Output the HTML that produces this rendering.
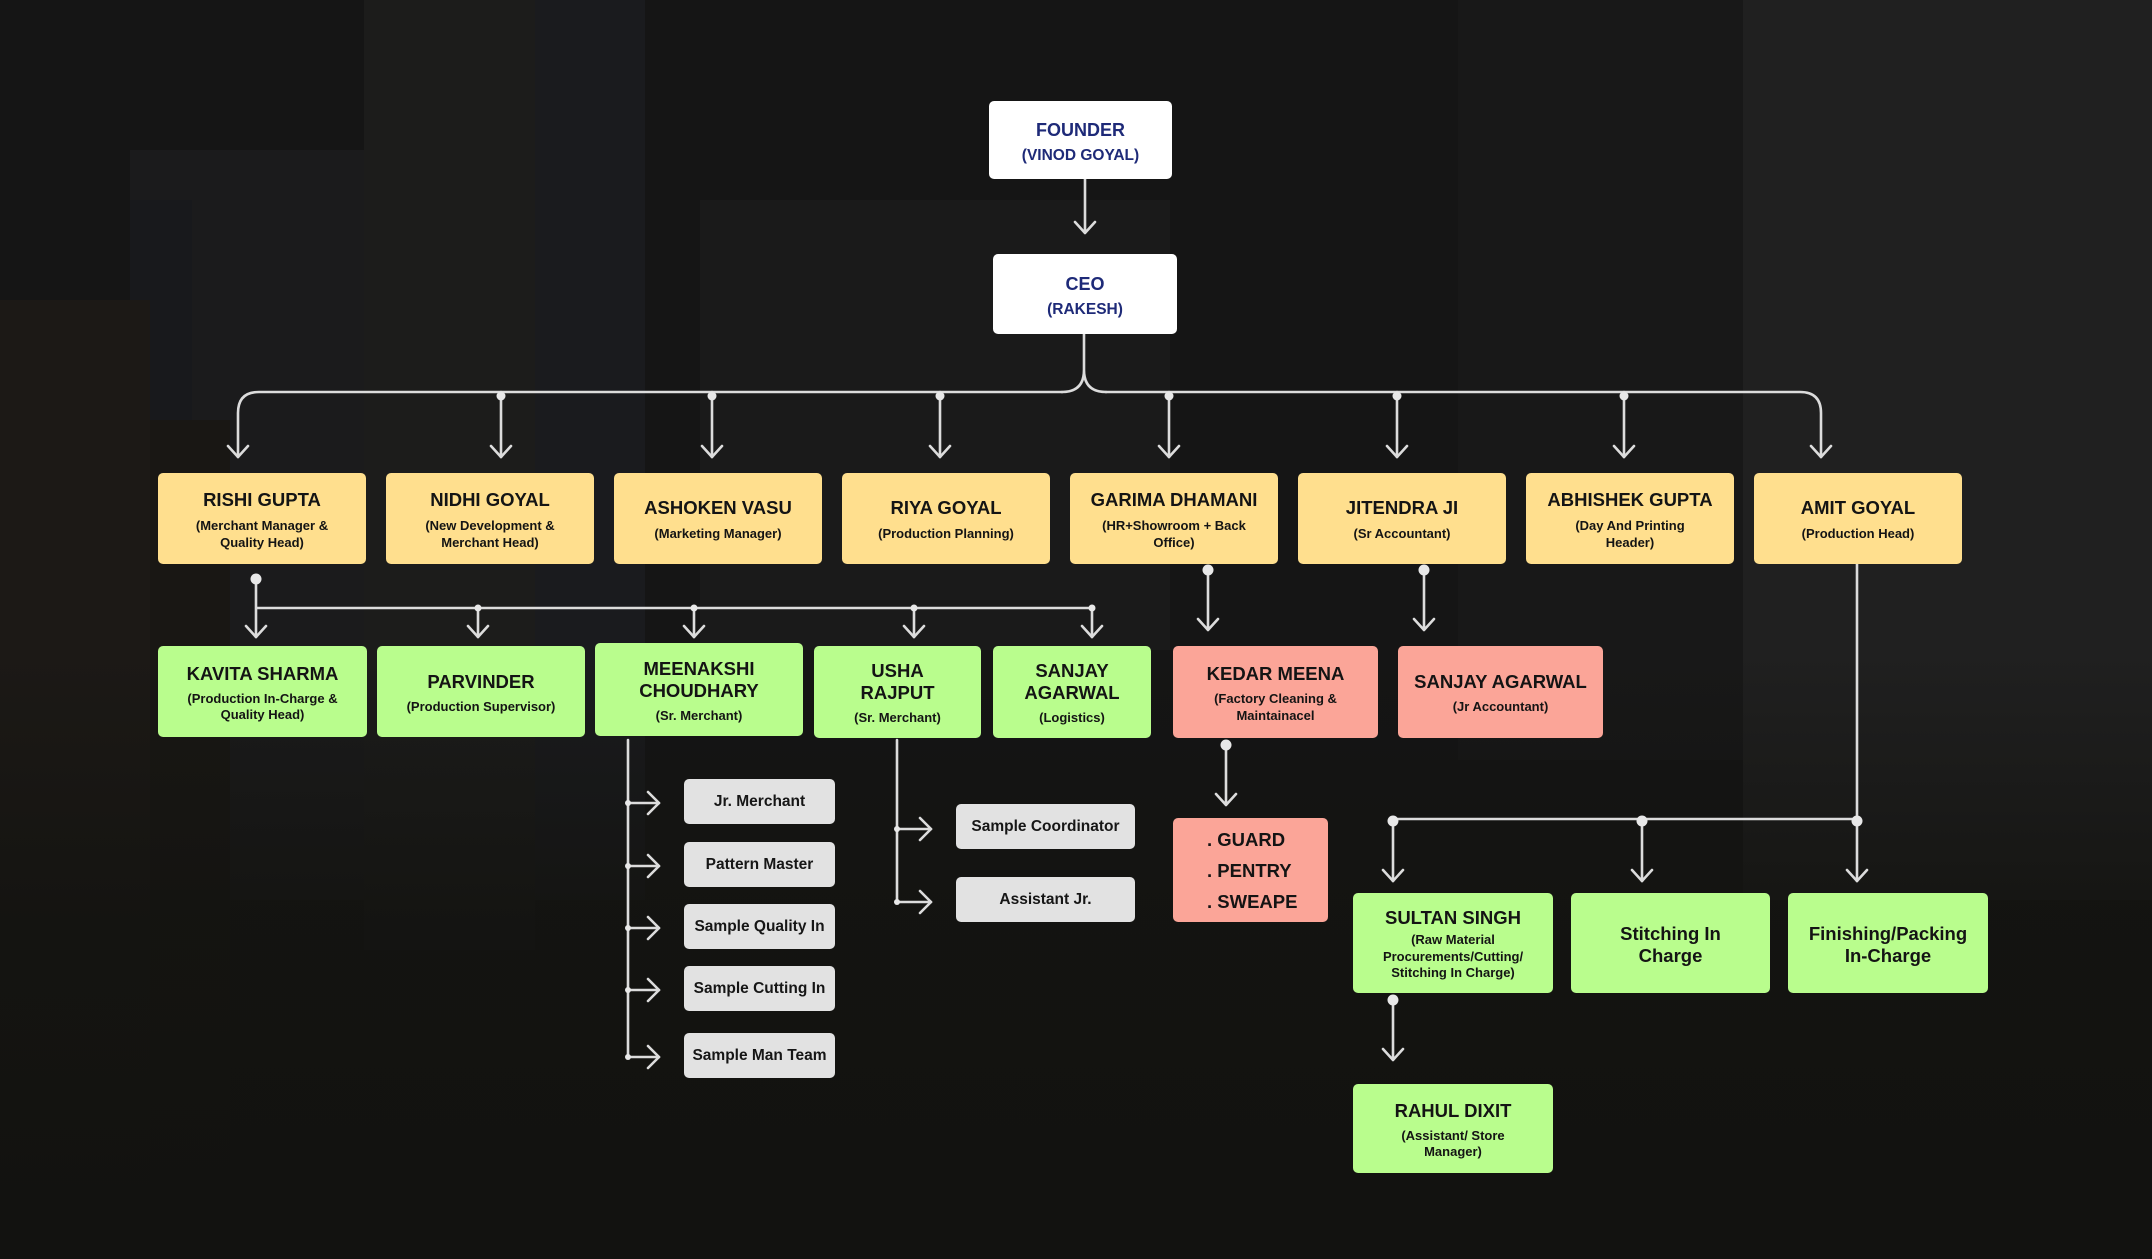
<!DOCTYPE html>
<html>
<head>
<meta charset="utf-8">
<style>
html,body{margin:0;padding:0;background:#141414;}
#c{position:relative;width:2152px;height:1259px;overflow:hidden;background:#141414;font-family:"Liberation Sans",Arial,sans-serif;}
.bg{position:absolute;}
.b{position:absolute;box-sizing:border-box;display:flex;flex-direction:column;align-items:center;justify-content:center;text-align:center;border-radius:5px;color:#141414;padding-top:3px;}
.t{font-weight:bold;font-size:18.5px;line-height:22px;}
.s{font-weight:bold;font-size:13px;line-height:16.5px;margin-top:6px;}
.y{background:#FFDF8E;}
.g{background:#B9FD8D;}
.r{background:#FBA598;}
.w{background:#FFFFFF;}
.w .t{color:#1E2A78;font-size:18px;}
.w .s{color:#1E2A78;font-size:15.5px;line-height:18px;margin-top:6px;}
.gr{background:#E2E2E2;font-weight:bold;font-size:15.5px;color:#161616;padding-top:0;}
.y .s{margin-top:7px;}
</style>
</head>
<body>
<div id="c">
  <!-- background city -->
  <div class="bg" style="left:0;top:0;width:2152px;height:1259px;background:#151515;"></div>
  <div class="bg" style="left:130px;top:150px;width:234px;height:750px;background:#1b1b1c;"></div>
  <div class="bg" style="left:130px;top:200px;width:62px;height:560px;background:#18191c;"></div>
  <div class="bg" style="left:364px;top:0;width:171px;height:950px;background:#1c1c1b;"></div>
  <div class="bg" style="left:535px;top:0;width:110px;height:900px;background:#1a1b1e;"></div>
  <div class="bg" style="left:0;top:300px;width:150px;height:959px;background:#1c1916;"></div>
  <div class="bg" style="left:150px;top:420px;width:80px;height:839px;background:#191714;"></div>
  <div class="bg" style="left:700px;top:200px;width:470px;height:450px;background:#1a1a1a;"></div>
  <div class="bg" style="left:1458px;top:0;width:285px;height:760px;background:#181818;"></div>
  <div class="bg" style="left:1743px;top:0;width:409px;height:900px;background:#202020;"></div>
  <div class="bg" style="left:0;top:650px;width:2152px;height:609px;background:linear-gradient(rgba(19,19,16,0),rgba(19,19,16,0.85) 45%,#121210);"></div>

  <svg class="bg" style="left:0;top:0" width="2152" height="1259" viewBox="0 0 2152 1259">
    <g fill="none" stroke="#DCDCDC" stroke-width="2.6" stroke-linecap="round" stroke-linejoin="round">
      <!-- founder -> ceo -->
      <path d="M1085 179 V233 M1075 222 L1085 233 L1095 222"/>
      <!-- ceo brace -->
      <path d="M1084 334 V370 Q1084 392 1062 392 M1084 370 Q1084 392 1106 392"/>
      <path d="M1062 392 H259 Q238 392 238 413 V457"/>
      <path d="M1106 392 H1800 Q1821 392 1821 413 V457"/>
      <!-- row1 verticals -->
      <path d="M501 392 V457 M712 392 V457 M940 392 V457 M1169 392 V457 M1397 392 V457 M1624 392 V457"/>
      <!-- row1 chevrons -->
      <path d="M228 446 L238 457 L248 446 M491 446 L501 457 L511 446 M702 446 L712 457 L722 446 M930 446 L940 457 L950 446 M1159 446 L1169 457 L1179 446 M1387 446 L1397 457 L1407 446 M1614 446 L1624 457 L1634 446 M1811 446 L1821 457 L1831 446"/>
      <!-- rishi -> row2 -->
      <path d="M256 579 V637 M256 608 H1092 V637 M478 608 V637 M694 608 V637 M914 608 V637"/>
      <path d="M246 626 L256 637 L266 626 M468 626 L478 637 L488 626 M684 626 L694 637 L704 626 M904 626 L914 637 L924 626 M1082 626 L1092 637 L1102 626"/>
      <!-- garima -> kedar, jitendra -> sanjay -->
      <path d="M1208 570 V630 M1198 619 L1208 630 L1218 619"/>
      <path d="M1424 570 V630 M1414 619 L1424 630 L1434 619"/>
      <!-- kedar -> guard -->
      <path d="M1226 745 V805 M1216 794 L1226 805 L1236 794"/>
      <!-- amit -->
      <path d="M1857 564 V819 M1393 819 H1857 M1393 819 V881 M1642 819 V881 M1857 819 V881"/>
      <path d="M1383 870 L1393 881 L1403 870 M1632 870 L1642 881 L1652 870 M1847 870 L1857 881 L1867 870"/>
      <!-- sultan -> rahul -->
      <path d="M1393 1000 V1060 M1383 1049 L1393 1060 L1403 1049"/>
      <!-- meenakshi -->
      <path d="M628 740 V1057 M628 803 H659 M628 866 H659 M628 928 H659 M628 990 H659 M628 1057 H659"/>
      <path d="M648 792 L659 803 L648 814 M648 855 L659 866 L648 877 M648 917 L659 928 L648 939 M648 979 L659 990 L648 1001 M648 1046 L659 1057 L648 1068"/>
      <!-- usha -->
      <path d="M897 740 V902 M897 829 H931 M897 902 H931"/>
      <path d="M920 818 L931 829 L920 840 M920 891 L931 902 L920 913"/>
    </g>
    <g fill="#E8E8E8">
      <circle cx="501" cy="396" r="4.5"/><circle cx="712" cy="396" r="4.5"/><circle cx="940" cy="396" r="4.5"/>
      <circle cx="1169" cy="396" r="4.5"/><circle cx="1397" cy="396" r="4.5"/><circle cx="1624" cy="396" r="4.5"/>
      <circle cx="256" cy="579" r="5.5"/>
      <circle cx="478" cy="608" r="3.5"/><circle cx="694" cy="608" r="3.5"/><circle cx="914" cy="608" r="3.5"/><circle cx="1092" cy="608" r="3.5"/>
      <circle cx="1208" cy="570" r="5.5"/><circle cx="1424" cy="570" r="5.5"/>
      <circle cx="1226" cy="745" r="5.5"/>
      <circle cx="1393" cy="821" r="5.5"/><circle cx="1642" cy="821" r="5.5"/><circle cx="1857" cy="821" r="5.5"/>
      <circle cx="1393" cy="1000" r="5.5"/>
      <circle cx="628" cy="803" r="3"/><circle cx="628" cy="866" r="3"/><circle cx="628" cy="928" r="3"/><circle cx="628" cy="990" r="3"/><circle cx="628" cy="1057" r="3"/>
      <circle cx="897" cy="829" r="3"/><circle cx="897" cy="902" r="3"/>
    </g>
  </svg>

  <!-- top -->
  <div class="b w" style="left:989px;top:101px;width:183px;height:78px;"><div class="t">FOUNDER</div><div class="s">(VINOD GOYAL)</div></div>
  <div class="b w" style="left:993px;top:254px;width:184px;height:80px;"><div class="t">CEO</div><div class="s">(RAKESH)</div></div>

  <!-- row 1 -->
  <div class="b y" style="left:158px;top:473px;width:208px;height:91px;"><div class="t">RISHI GUPTA</div><div class="s">(Merchant Manager &amp;<br>Quality Head)</div></div>
  <div class="b y" style="left:386px;top:473px;width:208px;height:91px;"><div class="t">NIDHI GOYAL</div><div class="s">(New Development &amp;<br>Merchant Head)</div></div>
  <div class="b y" style="left:614px;top:473px;width:208px;height:91px;"><div class="t">ASHOKEN VASU</div><div class="s">(Marketing Manager)</div></div>
  <div class="b y" style="left:842px;top:473px;width:208px;height:91px;"><div class="t">RIYA GOYAL</div><div class="s">(Production Planning)</div></div>
  <div class="b y" style="left:1070px;top:473px;width:208px;height:91px;"><div class="t">GARIMA DHAMANI</div><div class="s">(HR+Showroom + Back<br>Office)</div></div>
  <div class="b y" style="left:1298px;top:473px;width:208px;height:91px;"><div class="t">JITENDRA JI</div><div class="s">(Sr Accountant)</div></div>
  <div class="b y" style="left:1526px;top:473px;width:208px;height:91px;"><div class="t">ABHISHEK GUPTA</div><div class="s">(Day And Printing<br>Header)</div></div>
  <div class="b y" style="left:1754px;top:473px;width:208px;height:91px;"><div class="t">AMIT GOYAL</div><div class="s">(Production Head)</div></div>

  <!-- row 2 -->
  <div class="b g" style="left:158px;top:646px;width:209px;height:91px;"><div class="t">KAVITA SHARMA</div><div class="s">(Production In-Charge &amp;<br>Quality Head)</div></div>
  <div class="b g" style="left:377px;top:646px;width:208px;height:91px;"><div class="t">PARVINDER</div><div class="s">(Production Supervisor)</div></div>
  <div class="b g" style="left:595px;top:643px;width:208px;height:93px;"><div class="t">MEENAKSHI<br>CHOUDHARY</div><div class="s">(Sr. Merchant)</div></div>
  <div class="b g" style="left:814px;top:646px;width:167px;height:92px;"><div class="t">USHA<br>RAJPUT</div><div class="s">(Sr. Merchant)</div></div>
  <div class="b g" style="left:993px;top:646px;width:158px;height:92px;"><div class="t">SANJAY<br>AGARWAL</div><div class="s">(Logistics)</div></div>
  <div class="b r" style="left:1173px;top:646px;width:205px;height:92px;"><div class="t">KEDAR MEENA</div><div class="s">(Factory Cleaning &amp;<br>Maintainacel</div></div>
  <div class="b r" style="left:1398px;top:646px;width:205px;height:92px;"><div class="t">SANJAY AGARWAL</div><div class="s">(Jr Accountant)</div></div>

  <!-- meenakshi subs -->
  <div class="b gr" style="left:684px;top:779px;width:151px;height:45px;">Jr. Merchant</div>
  <div class="b gr" style="left:684px;top:842px;width:151px;height:45px;">Pattern Master</div>
  <div class="b gr" style="left:684px;top:904px;width:151px;height:45px;">Sample Quality In</div>
  <div class="b gr" style="left:684px;top:966px;width:151px;height:45px;">Sample Cutting In</div>
  <div class="b gr" style="left:684px;top:1033px;width:151px;height:45px;">Sample Man Team</div>

  <!-- usha subs -->
  <div class="b gr" style="left:956px;top:804px;width:179px;height:45px;">Sample Coordinator</div>
  <div class="b gr" style="left:956px;top:877px;width:179px;height:45px;">Assistant Jr.</div>

  <!-- guard -->
  <div class="b r" style="left:1173px;top:818px;width:155px;height:104px;align-items:flex-start;padding-left:34px;padding-top:0;">
    <div class="t" style="line-height:31px;text-align:left;">. GUARD<br>. PENTRY<br>. SWEAPE</div>
  </div>

  <!-- amit subs -->
  <div class="b g" style="left:1353px;top:893px;width:200px;height:100px;"><div class="t">SULTAN SINGH</div><div class="s" style="margin-top:3px;">(Raw Material<br>Procurements/Cutting/<br>Stitching In Charge)</div></div>
  <div class="b g" style="left:1571px;top:893px;width:199px;height:100px;"><div class="t">Stitching In<br>Charge</div></div>
  <div class="b g" style="left:1788px;top:893px;width:200px;height:100px;"><div class="t">Finishing/Packing<br>In-Charge</div></div>
  <div class="b g" style="left:1353px;top:1084px;width:200px;height:89px;"><div class="t">RAHUL DIXIT</div><div class="s">(Assistant/ Store<br>Manager)</div></div>
</div>
</body>
</html>
